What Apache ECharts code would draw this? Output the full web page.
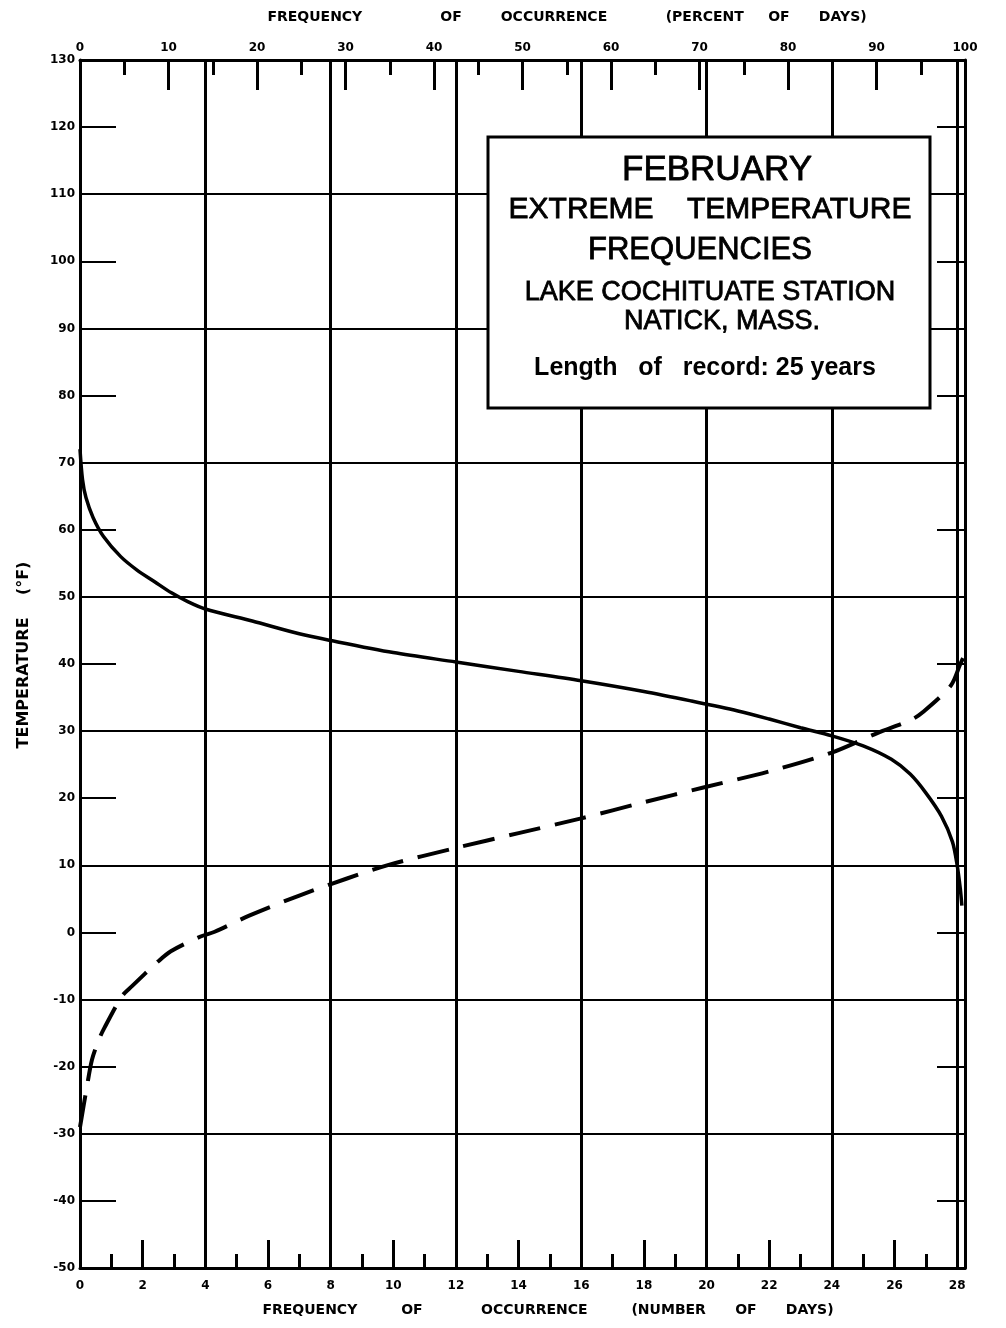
<!DOCTYPE html>
<html>
<head>
<meta charset="utf-8">
<script src="https://cdn.jsdelivr.net/npm/echarts@6/dist/echarts.min.js"></script>
<style>html,body{margin:0;padding:0;background:#fff}#c{width:1006px;height:1328px}</style>
</head>
<body>
<div id="c"></div>
<script>
// Daily maximum temperature curve (solid): frequency in days vs temperature (°F)
const maxDays  = [0, 0.08, 0.19, 0.42, 0.75, 1.3, 1.82, 2.37, 2.92, 3.44, 4.0, 5.5, 7.0, 8.0, 10, 12, 14, 16, 18, 19.5, 21, 22, 23, 24, 25.0, 25.9, 26.5, 27.0, 27.5, 27.85, 28.0, 28.1, 28.15];
const maxTemps = [72, 67.5, 64.8, 61.8, 59.0, 56.0, 54.0, 52.3, 50.6, 49.3, 48.2, 46.4, 44.5, 43.5, 41.7, 40.3, 38.9, 37.5, 35.9, 34.5, 33.0, 31.8, 30.5, 29.3, 27.8, 25.8, 23.6, 20.8, 17.3, 13.5, 10.0, 6.5, 4.0];
// Daily minimum temperature curve (dashed)
const minDays  = [0, 0.22, 0.38, 0.6, 0.77, 1.34, 1.66, 2.5, 2.9, 3.85, 4.3, 5.4, 7.0, 8.5, 9.8, 12, 14, 16, 18, 19.9, 22, 24, 25.45, 26.5, 26.9, 27.8, 28.1, 28.2];
const minTemps = [-29, -23, -19, -16, -14.3, -9.5, -8, -4.3, -2.8, -0.6, 0.1, 2.5, 5.5, 8.0, 10, 12.6, 14.8, 17, 19.4, 21.6, 24, 26.8, 29.7, 31.6, 32.8, 36.8, 40, 41];
// Full-width horizontal grid lines (°F)
const fullTempLines = [110, 90, 70, 50, 30, 10, -10, -30];

const FONT = '"DejaVu Sans", sans-serif';
const lbl = {fontFamily: FONT, fontWeight: 'bold', fontSize: 12, color: '#000'};
const blk = w => ({color: '#000', width: w});
const sp = n => ' '.repeat(n);

const chart = echarts.init(document.getElementById('c'), null, {renderer: 'canvas'});
chart.setOption({
  animation: false,
  backgroundColor: '#fff',
  grid: {left: 80, right: 41, top: 60, bottom: 60},
  xAxis: [
    {
      type: 'value', position: 'bottom', min: 0, max: 28.25, interval: 2,
      axisLine: {show: true, onZero: false, lineStyle: blk(3)},
      axisTick: {show: true, inside: true, length: 28, lineStyle: blk(3)},
      minorTick: {show: true, splitNumber: 2, length: 14, lineStyle: blk(3)},
      splitLine: {show: false},
      axisLabel: Object.assign({margin: 12, formatter: v => (Math.abs(v - Math.round(v)) < 1e-6 && Math.round(v) % 2 === 0) ? String(Math.round(v)) : ''}, lbl),
      name: 'FREQUENCY' + sp(9) + 'OF' + sp(12) + 'OCCURRENCE' + sp(9) + '(NUMBER' + sp(6) + 'OF' + sp(6) + 'DAYS)',
      nameLocation: 'middle', nameGap: 35,
      nameTextStyle: {fontFamily: FONT, fontWeight: 'bold', fontSize: 14, color: '#000', padding: [0, 0, 0, 51]}
    },
    {
      type: 'value', position: 'bottom', min: 0, max: 28.25, interval: 4,
      axisLine: {show: false}, axisTick: {show: false}, axisLabel: {show: false},
      splitLine: {show: true, lineStyle: blk(3)}
    },
    {
      type: 'value', position: 'top', min: 0, max: 100, interval: 10,
      axisLine: {show: true, onZero: false, lineStyle: blk(3)},
      axisTick: {show: true, inside: true, length: 30, lineStyle: blk(3)},
      minorTick: {show: true, splitNumber: 2, length: 15, lineStyle: blk(3)},
      splitLine: {show: false},
      axisLabel: Object.assign({margin: 6}, lbl),
      name: 'FREQUENCY' + sp(16) + 'OF' + sp(8) + 'OCCURRENCE' + sp(12) + '(PERCENT' + sp(5) + 'OF' + sp(6) + 'DAYS)',
      nameLocation: 'middle', nameGap: 36,
      nameTextStyle: {fontFamily: FONT, fontWeight: 'bold', fontSize: 14, color: '#000', padding: [0, 0, 0, 89]}
    }
  ],
  yAxis: [
    {
      type: 'value', position: 'left', min: -50, max: 130, interval: 10,
      axisLine: {show: true, onZero: false, lineStyle: blk(3)},
      axisTick: {show: true, inside: true, length: 36, lineStyle: blk(2)},
      splitLine: {show: false},
      axisLabel: Object.assign({margin: 5}, lbl),
      name: 'TEMPERATURE' + sp(4) + '(°F)', nameLocation: 'middle', nameGap: 48,
      nameTextStyle: {fontFamily: FONT, fontWeight: 'bold', fontSize: 16, color: '#000', padding: [0, 0, 0, 18]}
    },
    {
      type: 'value', position: 'right', min: -50, max: 130, interval: 10,
      axisLine: {show: true, onZero: false, lineStyle: blk(3)},
      axisTick: {show: true, inside: true, length: 28, lineStyle: blk(2)},
      splitLine: {show: false}, axisLabel: {show: false}
    }
  ],
  series: [
    {
      type: 'line', xAxisIndex: 0, yAxisIndex: 0, data: [], z: 1, silent: true,
      markLine: {
        silent: true, symbol: 'none', label: {show: false},
        lineStyle: {color: '#000', width: 2, type: 'solid'},
        data: fullTempLines.map(v => ({yAxis: v}))
      }
    },
    {
      type: 'line', xAxisIndex: 0, yAxisIndex: 0, z: 5,
      data: maxDays.map((d, i) => [d, maxTemps[i]]),
      showSymbol: false, smooth: 0.3,
      lineStyle: {color: '#000', width: 3.5, type: 'solid'}
    },
    {
      type: 'line', xAxisIndex: 0, yAxisIndex: 0, z: 5,
      data: minDays.map((d, i) => [d, minTemps[i]]),
      showSymbol: false, smooth: 0.3,
      lineStyle: {color: '#000', width: 4, type: [32, 15]}
    }
  ],
  graphic: [
    {type: 'rect', z: 100, shape: {x: 488, y: 137, width: 442, height: 271}, style: {fill: '#fff', stroke: '#000', lineWidth: 3}},
    {type: 'text', z: 101, style: {text: 'FEBRUARY', x: 717, y: 170, align: 'center', verticalAlign: 'middle', font: '35px "Liberation Sans"', fill: '#000', stroke: '#000', lineWidth: 0.8}},
    {type: 'text', z: 101, style: {text: 'EXTREME    TEMPERATURE', x: 710, y: 210, align: 'center', verticalAlign: 'middle', font: '30px "Liberation Sans"', fill: '#000', stroke: '#000', lineWidth: 0.8}},
    {type: 'text', z: 101, style: {text: 'FREQUENCIES', x: 700, y: 250, align: 'center', verticalAlign: 'middle', font: '31px "Liberation Sans"', fill: '#000', stroke: '#000', lineWidth: 0.8}},
    {type: 'text', z: 101, style: {text: 'LAKE COCHITUATE STATION', x: 710, y: 293, align: 'center', verticalAlign: 'middle', font: '27px "Liberation Sans"', fill: '#000', stroke: '#000', lineWidth: 0.8}},
    {type: 'text', z: 101, style: {text: 'NATICK, MASS.', x: 722, y: 322, align: 'center', verticalAlign: 'middle', font: '27px "Liberation Sans"', fill: '#000', stroke: '#000', lineWidth: 0.8}},
    {type: 'text', z: 101, style: {text: 'Length   of   record: 25 years', x: 705, y: 368, align: 'center', verticalAlign: 'middle', font: 'bold 25px "Liberation Sans"', fill: '#000'}}
  ]
});
</script>
</body>
</html>
